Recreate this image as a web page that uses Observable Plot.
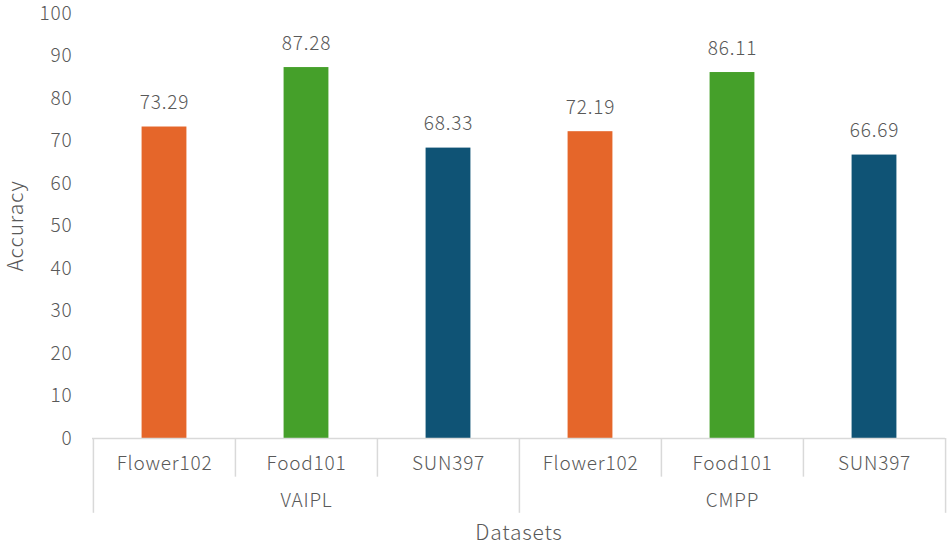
<!DOCTYPE html>
<html>
<head>
<meta charset="utf-8">
<script src="https://cdn.jsdelivr.net/npm/d3@7"></script>
<script src="https://cdn.jsdelivr.net/npm/@observablehq/plot@0.6"></script>
<style>
  html, body { margin: 0; padding: 0; background: #fff; }
  svg { font-family: "Noto Sans CJK SC", "Noto Sans", sans-serif; font-weight: 300; }
  svg text { letter-spacing: 0.8px; }
</style>
</head>
<body>
<div id="chart"></div>
<script>
const groups = ["VAIPL", "VAIPL", "VAIPL", "CMPP", "CMPP", "CMPP"];
const datasets = ["Flower102", "Food101", "SUN397", "Flower102", "Food101", "SUN397"];
const values = [73.29, 87.28, 68.33, 72.19, 86.11, 66.69];
const colorByDataset = {Flower102: "#E5662A", Food101: "#45A02A", SUN397: "#0F5375"};
const yTicks = [0, 10, 20, 30, 40, 50, 60, 70, 80, 90, 100];

const data = values.map((v, i) => ({
  key: groups[i] + "|" + datasets[i],
  group: groups[i],
  dataset: datasets[i],
  value: v,
  idx: i
}));

const W = 950, H = 546, ML = 92, MR = 5, MT = 13, MB = 108;
const step = (W - ML - MR) / data.length;
const barW = 45;
const inset = (step - barW) / 2;

const catSepEnd = -9.1;
const groupSepEnd = -17.6;

const innerSeps = data.filter((d, i) => i > 0 && groups[i] === groups[i - 1]);
const groupStarts = data.filter((d, i) => i === 0 || groups[i] !== groups[i - 1]);
const lastItem = data.filter((d, i) => i === data.length - 1);
const groupMids = data.filter((d, i) => {
  const g = groups[i];
  const idxs = groups.map((gg, j) => gg === g ? j : -1).filter(j => j >= 0);
  return i === idxs[Math.floor(idxs.length / 2)];
});

const textColor = "#595959";
const fs = 19;

const chart = Plot.plot({
  width: W,
  height: H,
  marginLeft: ML,
  marginRight: MR,
  marginTop: MT,
  marginBottom: MB,
  style: {fontSize: fs + "px", color: textColor, background: "#fff"},
  x: {domain: data.map(d => d.key), padding: 0, axis: null},
  y: {domain: [0, 100], ticks: yTicks, label: null},
  marks: [
    Plot.axisY({
      ticks: yTicks, tickSize: 0, tickPadding: 20, fontSize: fs, fill: textColor,
      label: null
    }),
    Plot.text(["Accuracy"], {frameAnchor: "left", textAnchor: "middle", lineAnchor: "middle", dx: -76, rotate: -90, fontSize: 21, fill: textColor}),
    Plot.barY(data, {x: "key", y: "value", fill: d => colorByDataset[d.dataset], insetLeft: inset, insetRight: inset}),
    Plot.text(data, {x: "key", y: "value", text: d => d.value.toFixed(2), dy: -24, fontSize: fs, fill: textColor}),
    Plot.ruleY([0], {stroke: "#D9D9D9", strokeWidth: 1.5}),
    Plot.ruleX(innerSeps, {x: "key", dx: -step / 2, y1: 0, y2: catSepEnd, stroke: "#D9D9D9", strokeWidth: 1.5}),
    Plot.ruleX(groupStarts, {x: "key", dx: -step / 2, y1: 0, y2: groupSepEnd, stroke: "#D9D9D9", strokeWidth: 1.5}),
    Plot.ruleX(lastItem, {x: "key", dx: step / 2, y1: 0, y2: groupSepEnd, stroke: "#D9D9D9", strokeWidth: 1.5}),
    Plot.text(data, {x: "key", y: 0, text: "dataset", dy: 25, fontSize: fs, fill: textColor}),
    Plot.text(groupMids, {x: "key", y: 0, text: "group", dy: 62, fontSize: fs, fill: textColor}),
    Plot.text(["Datasets"], {frameAnchor: "bottom", lineAnchor: "middle", dy: 95, fontSize: 21, fill: textColor})
  ]
});
document.getElementById("chart").appendChild(chart);
</script>
</body>
</html>
